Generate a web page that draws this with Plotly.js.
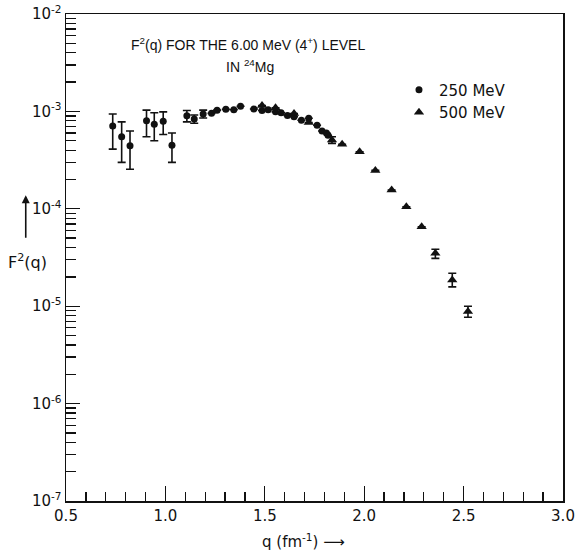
<!DOCTYPE html>
<html>
<head>
<meta charset="utf-8">
<script src="https://cdn.plot.ly/plotly-3.0.1.min.js"></script>
<style>
  html, body { margin: 0; padding: 0; background: #fff; }
  #chart { width: 575px; height: 552px; }
</style>
</head>
<body>
<div id="chart"></div>
<script>
// Form factor F^2(q) for the 6.00 MeV (4+) level in 24Mg

// 250 MeV measurements (circles)
const q250 = [0.735, 0.78, 0.822, 0.905, 0.944, 0.989, 1.033, 1.108, 1.145, 1.19,
              1.232, 1.26, 1.304, 1.344, 1.378, 1.445, 1.486, 1.517, 1.554, 1.582,
              1.614, 1.647, 1.684, 1.721, 1.763, 1.788, 1.81, 1.818];
const f250 = [7.1e-4, 5.5e-4, 4.45e-4, 8.0e-4, 7.4e-4, 7.9e-4, 4.5e-4, 9.0e-4, 8.35e-4, 9.4e-4,
              9.55e-4, 1.03e-3, 1.05e-3, 1.04e-3, 1.13e-3, 1.06e-3, 1.02e-3, 1.04e-3, 9.9e-4, 9.7e-4,
              9.1e-4, 8.8e-4, 8.1e-4, 8.5e-4, 7.2e-4, 6.3e-4, 6.0e-4, 5.7e-4];
// upper and lower ends of the error bars (null = no bar drawn)
const f250Hi = [9.4e-4, 7.8e-4, 6.3e-4, 1.03e-3, 9.7e-4, 9.9e-4, 6.0e-4, 1.02e-3, 9.2e-4, 1.03e-3,
                null, null, null, null, null, null, null, null, null, null,
                null, null, null, null, null, null, null, null];
const f250Lo = [4.1e-4, 3.0e-4, 2.55e-4, 5.5e-4, 5.0e-4, 5.8e-4, 3.0e-4, 7.8e-4, 7.55e-4, 8.55e-4,
                null, null, null, null, null, null, null, null, null, null,
                null, null, null, null, null, null, null, null];

// 500 MeV measurements (triangles)
const q500 = [1.486, 1.554, 1.647, 1.721, 1.838, 1.889, 1.977, 2.056, 2.138, 2.212,
              2.289, 2.358, 2.443, 2.522];
const f500 = [1.15e-3, 1.09e-3, 9.5e-4, 7.7e-4, 5.1e-4, 4.6e-4, 3.85e-4, 2.48e-4, 1.56e-4, 1.05e-4,
              6.55e-5, 3.49e-5, 1.86e-5, 8.8e-6];
const f500Hi = [null, null, null, null, 5.5e-4, null, null, null, null, null,
                null, 3.84e-5, 2.18e-5, 1.0e-5];
const f500Lo = [null, null, null, null, 4.7e-4, null, null, null, null, null,
                null, 3.1e-5, 1.58e-5, 7.7e-6];

// axis tick labels
const yTickVals = [1e-7, 1e-6, 1e-5, 1e-4, 1e-3, 1e-2];
const yTickText = ['10<sup>-7</sup>', '10<sup>-6</sup>', '10<sup>-5</sup>',
                   '10<sup>-4</sup>', '10<sup>-3</sup>', '10<sup>-2</sup>'];
const xTickVals = [0.5, 1.0, 1.5, 2.0, 2.5, 3.0];
const xTickText = ['0.5', '1.0', '1.5', '2.0', '2.5', '3.0'];

// minor log ticks: 2..9 within every decade
const mantissas = [2, 3, 4, 5, 6, 7, 8, 9];
const yMinorVals = [];
yTickVals.slice(0, -1).forEach(d => mantissas.forEach(m => yMinorVals.push(m * d)));

function plusErr(v, hi) { return v.map((y, i) => hi[i] == null ? 0 : hi[i] - y); }
function minusErr(v, lo) { return v.map((y, i) => lo[i] == null ? 0 : y - lo[i]); }

const FONT = 'DejaVu Sans, Liberation Sans, sans-serif';
const TFONT = 'Liberation Sans, Arial, sans-serif';
const INK = '#111';

const traces = [
  {
    type: 'scatter', mode: 'markers', name: '250 MeV',
    x: q250, y: f250,
    marker: { symbol: 'circle', size: 7, color: INK },
    error_y: { type: 'data', symmetric: false,
               array: plusErr(f250, f250Hi), arrayminus: minusErr(f250, f250Lo),
               color: INK, thickness: 1.6, width: 4 }
  },
  {
    type: 'scatter', mode: 'markers', name: '500 MeV',
    x: q500, y: f500,
    marker: { symbol: 'triangle-up', size: 9, color: INK },
    error_y: { type: 'data', symmetric: false,
               array: plusErr(f500, f500Hi), arrayminus: minusErr(f500, f500Lo),
               color: INK, thickness: 1.6, width: 4 }
  }
];

const layout = {
  width: 575, height: 552,
  margin: { l: 66, r: 12, t: 14, b: 51 },
  paper_bgcolor: '#fff', plot_bgcolor: '#fff',
  font: { family: FONT, color: INK, size: 14 },
  showlegend: true,
  legend: {
    x: 0.67, y: 0.878, xanchor: 'left', yanchor: 'top',
    bgcolor: 'rgba(0,0,0,0)', borderwidth: 0,
    font: { family: FONT, size: 15, color: INK },
    itemwidth: 30, tracegroupgap: 0
  },
  xaxis: {
    range: [0.5, 3.0], showgrid: false, zeroline: false,
    showline: true, linecolor: INK, linewidth: 1.5, mirror: true,
    ticks: 'inside', ticklen: 15, tickwidth: 1.3, tickcolor: INK,
    tickvals: xTickVals, ticktext: xTickText,
    tickfont: { family: FONT, size: 15, color: INK },
    minor: { dtick: 0.1, ticks: 'inside', ticklen: 9, tickwidth: 1.3, tickcolor: INK, showgrid: false }
  },
  yaxis: {
    type: 'log', range: [-7, -2], showgrid: false, zeroline: false,
    showline: true, linecolor: INK, linewidth: 1.5, mirror: true,
    ticks: 'inside', ticklen: 14, tickwidth: 1.3, tickcolor: INK,
    tickvals: yTickVals, ticktext: yTickText,
    tickfont: { family: FONT, size: 15, color: INK },
    minor: { tickvals: yMinorVals, ticks: 'inside', ticklen: 10, tickwidth: 1.3, tickcolor: INK, showgrid: false }
  },
  annotations: [
    { text: 'F<sup>2</sup>(q) FOR THE 6.00 MeV (4<sup>+</sup>) LEVEL',
      xref: 'paper', yref: 'paper', x: 0.366, y: 0.939, xanchor: 'center', yanchor: 'middle',
      showarrow: false, font: { family: TFONT, size: 14, color: INK } },
    { text: 'IN <sup>24</sup>Mg',
      xref: 'paper', yref: 'paper', x: 0.37, y: 0.893, xanchor: 'center', yanchor: 'middle',
      showarrow: false, font: { family: TFONT, size: 14, color: INK } },
    { text: 'F<sup>2</sup>(q)',
      xref: 'paper', yref: 'paper', x: -0.12, y: 0.492, xanchor: 'left', yanchor: 'middle',
      showarrow: false, font: { family: FONT, size: 16, color: INK } },
    { text: '',
      xref: 'paper', yref: 'paper', x: -0.081, y: 0.628, ax: 0, ay: 44,
      showarrow: true, arrowhead: 2, arrowsize: 1, arrowwidth: 1.6, arrowcolor: INK },
    { text: 'q (fm<sup>-1</sup>) ⟶',
      xref: 'paper', yref: 'paper', x: 0.477, y: -0.082, xanchor: 'center', yanchor: 'middle',
      showarrow: false, font: { family: FONT, size: 15, color: INK } }
  ]
};

Plotly.newPlot('chart', traces, layout, { displayModeBar: false, staticPlot: true });
</script>
</body>
</html>
